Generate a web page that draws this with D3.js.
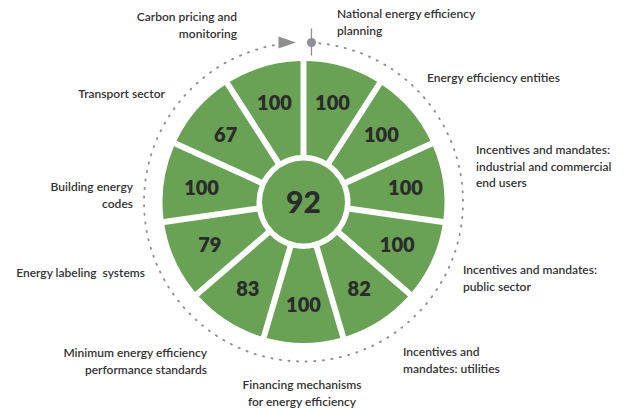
<!DOCTYPE html>
<html>
<head>
<meta charset="utf-8">
<script src="https://cdn.jsdelivr.net/npm/d3@7"></script>
<style>
  body { margin: 0; background: #fff; }
  svg text { font-family: "Lato", "Open Sans", sans-serif; }
</style>
</head>
<body>
<svg id="chart" width="629" height="412"></svg>
<script>
// data, clockwise from the top
var categories = [
  "National energy efficiency planning",
  "Energy efficiency entities",
  "Incentives and mandates: industrial and commercial end users",
  "Incentives and mandates: public sector",
  "Incentives and mandates: utilities",
  "Financing mechanisms for energy efficiency",
  "Minimum energy efficiency performance standards",
  "Energy labeling  systems",
  "Building energy codes",
  "Transport sector",
  "Carbon pricing and monitoring"
];
var scores = [100, 100, 100, 100, 82, 100, 83, 79, 100, 67, 100];
var overall = 92;

// label lines as they are broken in the picture
var labelLines = [
  ["National energy efficiency", "planning"],
  ["Energy efficiency entities"],
  ["Incentives and mandates:", "industrial and commercial", "end users"],
  ["Incentives and mandates:", "public sector"],
  ["Incentives and", "mandates: utilities"],
  ["Financing mechanisms", "for energy efficiency"],
  ["Minimum energy efficiency", "performance standards"],
  ["Energy labeling  systems"],
  ["Building energy", "codes"],
  ["Transport sector"],
  ["Carbon pricing and", "monitoring"]
];

var cx = 303.5, cy = 202;
var green = "#69a254", ink = "#2b2b2b", grey = "#8e8e93";

var svg = d3.select("#chart");
var g = svg.append("g").attr("transform", "translate(" + cx + "," + cy + ")");

// every wedge gets the same angle
var pie = d3.pie().value(1).sort(null);
var arcs = pie(scores);

var arc = d3.arc()
    .innerRadius(47)
    .outerRadius(141)
    .padAngle(0.06)
    .padRadius(100);

g.selectAll("path.wedge")
  .data(arcs)
  .enter().append("path")
    .attr("class", "wedge")
    .attr("d", arc)
    .attr("fill", green);

var labelArc = d3.arc().innerRadius(103).outerRadius(103);

g.selectAll("text.score")
  .data(arcs)
  .enter().append("text")
    .attr("class", "score")
    .attr("transform", function(d) { return "translate(" + labelArc.centroid(d) + ")"; })
    .attr("text-anchor", "middle")
    .attr("dy", "0.36em")
    .attr("fill", ink)
    .style("font-size", "20px")
    .style("font-weight", 800)
    .text(function(d) { return d.data; });

// center score
g.append("circle").attr("r", 41.5).attr("fill", green);
g.append("text")
  .attr("text-anchor", "middle")
  .attr("dy", "0.36em")
  .attr("fill", ink)
  .style("font-size", "30px")
  .style("font-weight", 900)
  .text(overall);

// dotted ring with start marker and arrow
var ringR = 159.5;
var ring = d3.arc()
    .innerRadius(ringR).outerRadius(ringR)
    .startAngle(0.1).endAngle(2 * Math.PI - 0.11);
g.append("path")
  .attr("d", ring)
  .attr("fill", "none")
  .attr("stroke", grey)
  .attr("stroke-width", 2)
  .attr("stroke-linecap", "round")
  .attr("stroke-dasharray", "0 8.6");

var mark = ringR * Math.sin(0.05);
g.append("line")
  .attr("x1", mark).attr("x2", mark)
  .attr("y1", -ringR - 14).attr("y2", -ringR + 13)
  .attr("stroke", grey).attr("stroke-width", 1.3);
g.append("circle").attr("cx", mark).attr("cy", -ringR).attr("r", 4.5).attr("fill", grey);
g.append("path")
  .attr("d", "M-25,-" + (ringR + 6) + " L-7.5,-" + ringR + " L-25,-" + (ringR - 6) + " Z")
  .attr("fill", grey);

// category labels, positions
var labelPos = [
  {x: 337, y: 18, a: "start"},
  {x: 427, y: 82, a: "start"},
  {x: 476, y: 154, a: "start"},
  {x: 463, y: 274, a: "start"},
  {x: 403, y: 356, a: "start"},
  {x: 302, y: 389, a: "middle"},
  {x: 207, y: 357, a: "end"},
  {x: 145, y: 277, a: "end"},
  {x: 133, y: 191, a: "end"},
  {x: 165, y: 98, a: "end"},
  {x: 237, y: 21, a: "end"}
];

svg.selectAll("text.cat")
  .data(categories)
  .enter().append("text")
    .attr("class", "cat")
    .attr("x", function(d, i) { return labelPos[i].x; })
    .attr("y", function(d, i) { return labelPos[i].y; })
    .attr("text-anchor", function(d, i) { return labelPos[i].a; })
    .attr("fill", "#333")
    .style("font-size", "12px")
    .style("font-weight", 600)
    .style("white-space", "pre")
    .each(function(d, i) {
      var t = d3.select(this);
      labelLines[i].forEach(function(line, k) {
        t.append("tspan")
          .attr("x", labelPos[i].x)
          .attr("dy", k === 0 ? 0 : 16.5)
          .text(line);
      });
    });
</script>
</body>
</html>
